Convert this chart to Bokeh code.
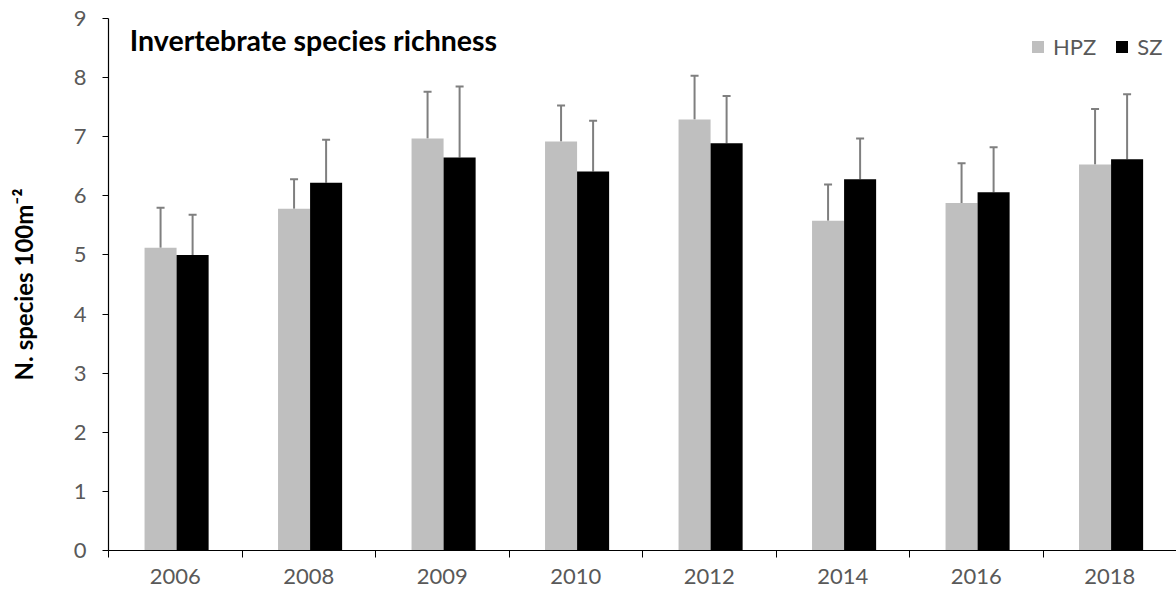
from bokeh.plotting import figure
from bokeh.models import ColumnDataSource, Whisker, TeeHead, FixedTicker, Label, Legend, LegendItem, Range1d
from bokeh.transform import dodge
from bokeh.embed import file_html
from bokeh.resources import INLINE

years = ["2006", "2008", "2009", "2010", "2012", "2014", "2016", "2018"]
hpz = [5.12, 5.78, 6.97, 6.92, 7.29, 5.58, 5.88, 6.53]
hpz_err = [0.68, 0.50, 0.79, 0.61, 0.74, 0.61, 0.67, 0.94]
sz = [5.00, 6.22, 6.65, 6.41, 6.89, 6.28, 6.06, 6.62]
sz_err = [0.68, 0.73, 1.20, 0.86, 0.80, 0.69, 0.76, 1.10]

idx = list(range(len(years)))
src = ColumnDataSource(dict(
    x=idx,
    hpz=hpz, hpz_top=[v + e for v, e in zip(hpz, hpz_err)],
    sz=sz, sz_top=[v + e for v, e in zip(sz, sz_err)],
))

FONT = "Lato"

p = figure(width=1176, height=594, output_backend="svg", toolbar_location=None,
           x_range=Range1d(-0.5, len(years) - 0.5), y_range=Range1d(0, 9),
           min_border_left=108, min_border_right=0, min_border_top=18, min_border_bottom=44)
p.outline_line_color = None
p.xgrid.visible = False
p.ygrid.visible = False

w = 0.24
r1 = p.vbar(x=dodge("x", -0.11, range=p.x_range), top="hpz", bottom=0, width=w, source=src,
            fill_color="#bfbfbf", line_color=None)
r2 = p.vbar(x=dodge("x", 0.13, range=p.x_range), top="sz", bottom=0, width=w, source=src,
            fill_color="#000000", line_color=None)

for off, lo, hi in [(-0.11, "hpz", "hpz_top"), (0.13, "sz", "sz_top")]:
    wk = Whisker(base=dodge("x", off, range=p.x_range), lower=lo, upper=hi, source=src,
                 line_color="#7f7f7f", line_width=2,
                 upper_head=TeeHead(size=8, line_color="#7f7f7f", line_width=2),
                 lower_head=None)
    p.add_layout(wk)

# x axis
p.xaxis.ticker = FixedTicker(ticks=idx, minor_ticks=[i - 0.5 for i in range(len(years) + 1)])
p.xaxis.major_label_overrides = {i: y for i, y in zip(idx, years)}
p.xaxis.major_tick_out = 0
p.xaxis.major_tick_in = 0
p.xaxis.minor_tick_out = 7
p.xaxis.minor_tick_in = 0
p.xaxis.axis_line_color = "black"
p.xaxis.axis_line_width = 1.2
p.xaxis.minor_tick_line_color = "black"
p.xaxis.major_label_text_font = FONT
p.xaxis.major_label_text_font_size = "22px"
p.xaxis.major_label_text_color = "#595959"
p.xaxis.major_label_standoff = 11

# y axis
p.yaxis.ticker = FixedTicker(ticks=list(range(0, 10)))
p.yaxis.minor_tick_line_color = None
p.yaxis.major_tick_out = 6
p.yaxis.major_tick_in = 0
p.yaxis.axis_line_color = "black"
p.yaxis.axis_line_width = 1.2
p.yaxis.major_tick_line_color = "black"
p.yaxis.major_label_text_font = FONT
p.yaxis.major_label_text_font_size = "22px"
p.yaxis.major_label_text_color = "#595959"
p.yaxis.major_label_standoff = 16
p.yaxis.axis_label = "N. species 100m\u207b\u00b2"
p.yaxis.axis_label_text_font = FONT
p.yaxis.axis_label_text_font_style = "bold"
p.yaxis.axis_label_text_font_size = "24px"
p.yaxis.axis_label_text_color = "black"
p.yaxis.axis_label_standoff = 33

# title inside the plot
p.add_layout(Label(x=-0.34, y=8.63, text="Invertebrate species richness", text_font=FONT,
                   text_font_style="bold", text_font_size="28.5px", text_color="black",
                   text_baseline="middle"))

legend = Legend(items=[LegendItem(label="HPZ", renderers=[r1]), LegendItem(label="SZ", renderers=[r2])],
                orientation="horizontal", location=(922, 490),
                glyph_width=15, glyph_height=15, label_standoff=8, spacing=18,
                padding=0, margin=0, border_line_color=None, background_fill_alpha=0,
                label_text_font=FONT, label_text_font_size="22px", label_text_color="#595959")
p.add_layout(legend)

open("out.html", "w").write(file_html(p, INLINE))
